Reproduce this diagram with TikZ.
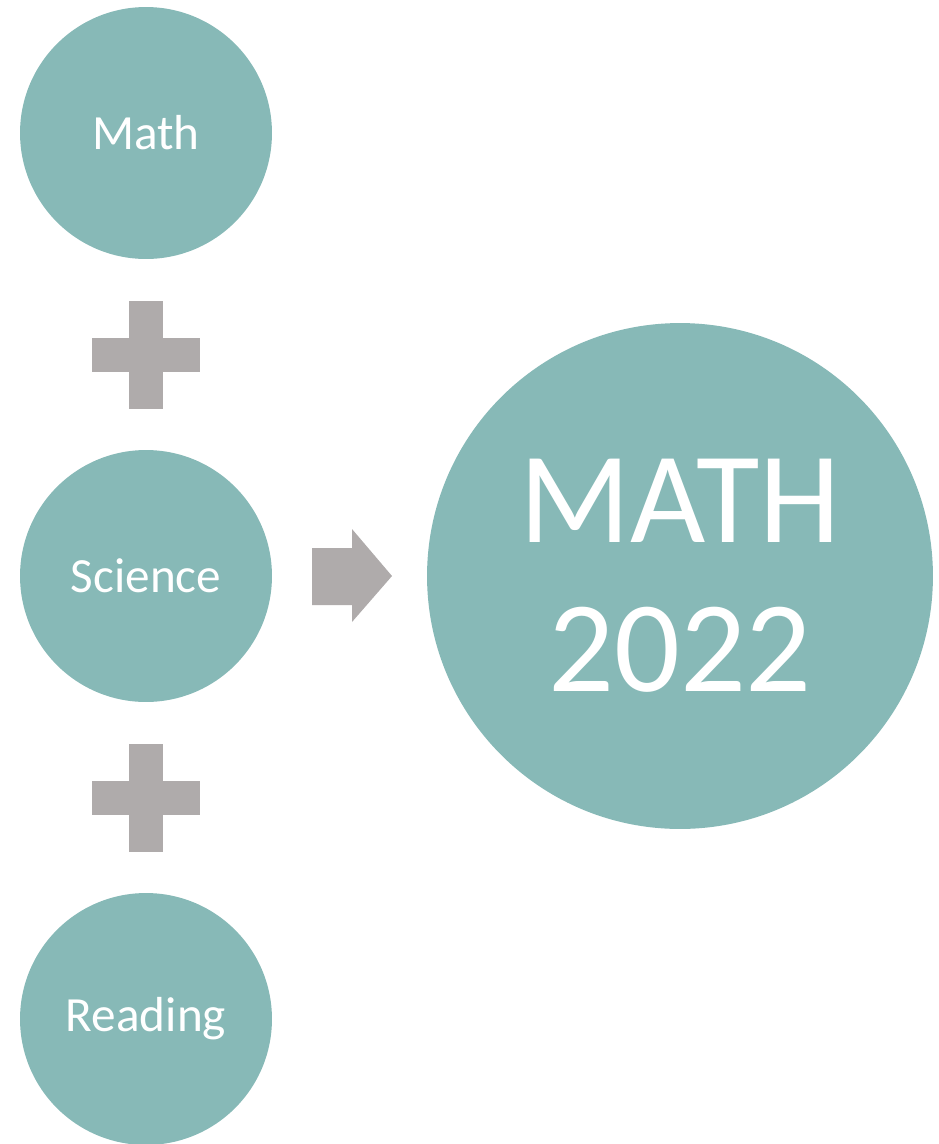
\documentclass[tikz,border=0pt]{standalone}
\usepackage{fontspec}
\setmainfont{Carlito}
\usepackage{tikz}

\definecolor{teal}{HTML}{87B9B7}
\definecolor{plusgray}{HTML}{AFABAB}

\tikzset{
    topic/.style={circle, fill=teal, text=white, inner sep=0pt,
        minimum size=5.04cm, font=\fontsize{28}{34}\selectfont},
    goal/.style={circle, fill=teal, text=white, inner sep=0pt, align=center,
        minimum size=10.12cm, font=\fontsize{74}{85}\selectfont},
}

\begin{document}
\begin{tikzpicture}[x=0.02cm, y=-0.02cm]
    \useasboundingbox (0, 0) rectangle (938, 1144);
    % the three subjects and the result
    \node[topic] (math) at (146, 133) {Math};
    \node[topic] (science) at (146, 576) {Science};
    \node[topic] (reading) at (146, 1019) {Reading};
    \node[goal] (result) at (680, 576) {MATH\\2022};
    % plus signs between the subjects
    \foreach \y in {355, 798} {
        \fill[plusgray] (129, \y-54) rectangle (163, \y+54);
        \fill[plusgray] (92, \y-17) rectangle (200, \y+17);
    }
    % block arrow
    \fill[plusgray] (312, 548) -- (352, 548) -- (352, 529) -- (392, 576)
        -- (352, 622) -- (352, 605) -- (312, 605) -- cycle;
\end{tikzpicture}
\end{document}
